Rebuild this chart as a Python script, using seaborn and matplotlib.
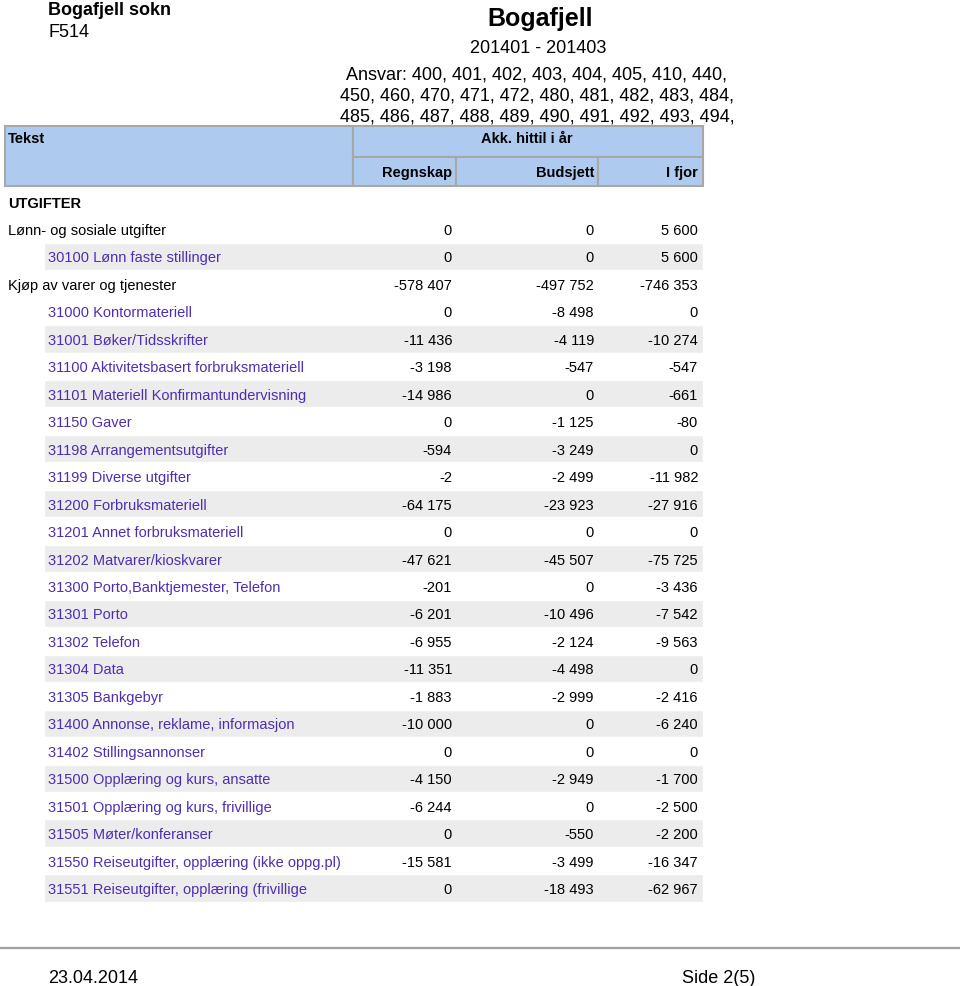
import matplotlib
matplotlib.use("Agg")
import matplotlib.pyplot as plt
from matplotlib.patches import Rectangle
import seaborn as sns
import numpy as np

# Tabelldata
labels = [
    "Lønn- og sosiale utgifter",
    "30100 Lønn faste stillinger",
    "Kjøp av varer og tjenester",
    "31000 Kontormateriell",
    "31001 Bøker/Tidsskrifter",
    "31100 Aktivitetsbasert forbruksmateriell",
    "31101 Materiell Konfirmantundervisning",
    "31150 Gaver",
    "31198 Arrangementsutgifter",
    "31199 Diverse utgifter",
    "31200 Forbruksmateriell",
    "31201 Annet forbruksmateriell",
    "31202 Matvarer/kioskvarer",
    "31300 Porto,Banktjemester, Telefon",
    "31301 Porto",
    "31302 Telefon",
    "31304 Data",
    "31305 Bankgebyr",
    "31400 Annonse, reklame, informasjon",
    "31402 Stillingsannonser",
    "31500 Opplæring og kurs, ansatte",
    "31501 Opplæring og kurs, frivillige",
    "31505 Møter/konferanser",
    "31550 Reiseutgifter, opplæring (ikke oppg.pl)",
    "31551 Reiseutgifter, opplæring (frivillige",
]
is_group = [True, False, True] + [False] * 22
regnskap = [0, 0, -578407, 0, -11436, -3198, -14986, 0, -594, -2, -64175, 0, -47621,
            -201, -6201, -6955, -11351, -1883, -10000, 0, -4150, -6244, 0, -15581, 0]
budsjett = [0, 0, -497752, -8498, -4119, -547, 0, -1125, -3249, -2499, -23923, 0, -45507,
            0, -10496, -2124, -4498, -2999, 0, 0, -2949, 0, -550, -3499, -18493]
i_fjor = [5600, 5600, -746353, 0, -10274, -547, -661, -80, 0, -11982, -27916, 0, -75725,
          -3436, -7542, -9563, 0, -2416, -6240, 0, -1700, -2500, -2200, -16347, -62967]

ansvar_lines = [
    "Ansvar: 400, 401, 402, 403, 404, 405, 410, 440,",
    "450, 460, 470, 471, 472, 480, 481, 482, 483, 484,",
    "485, 486, 487, 488, 489, 490, 491, 492, 493, 494,",
]

sns.set_theme(style="white")
plt.rcParams['font.family'] = ['Liberation Sans', 'DejaVu Sans']
plt.rcParams['text.color'] = 'black'

PURPLE = '#4f2db3'
HEADER = '#aecbef'
EDGE = '#a8a8a8'


def fmt(v):
    return f"{v:,}".replace(",", " ")


fig = plt.figure(figsize=(9.6, 9.87), dpi=100)
ax = fig.add_axes([0, 0, 1, 1])
ax.set_xlim(0, 960)
ax.set_ylim(987, 0)
ax.axis('off')

# Topptekst
ax.text(48, 15, "Bogafjell sokn", fontsize=13, fontweight='bold', va='baseline')
ax.text(48, 37, "F514", fontsize=13, va='baseline')
ax.text(540, 26, "Bogafjell", fontsize=18, fontweight='bold', ha='center', va='baseline')
ax.text(538, 53, "201401 - 201403", fontsize=13, ha='center', va='baseline')
for k, line in enumerate(ansvar_lines):
    ax.text(537, 80 + k * 20.5, line, fontsize=13, ha='center', va='baseline')

# Kolonnehode
ax.add_patch(Rectangle((5, 127), 348, 60, facecolor=HEADER, edgecolor=EDGE, lw=1.5))
ax.add_patch(Rectangle((353, 127), 350, 31, facecolor=HEADER, edgecolor=EDGE, lw=1.5))
for x0, w in [(353, 103), (456, 142), (598, 105)]:
    ax.add_patch(Rectangle((x0, 158), w, 29, facecolor=HEADER, edgecolor=EDGE, lw=1.5))
ax.text(8, 143, "Tekst", fontsize=10.5, fontweight='bold', va='baseline')
ax.text(527, 143, "Akk. hittil i år", fontsize=10.5, fontweight='bold', ha='center', va='baseline')
col_x = [452, 594, 698]
for x, t in zip(col_x, ["Regnskap", "Budsjett", "I fjor"]):
    ax.text(x, 177, t, fontsize=10.5, fontweight='bold', ha='right', va='baseline')

ax.text(8, 208, "UTGIFTER", fontsize=10.5, fontweight='bold', va='baseline')

# Rader
row_y = 230 + np.arange(len(labels)) * 27.46
shaded = []
k = 0
for i, g in enumerate(is_group):
    if g:
        k = 0
        continue
    if (k % 2 == 1) or (i == 1):
        shaded.append(i)
    k += 1
ax.barh(row_y[shaded], width=659, left=44, height=27.4, color='#ececec', zorder=0)

for i, lab in enumerate(labels):
    base = row_y[i] + 5
    if is_group[i]:
        ax.text(8, base, lab, fontsize=10.5, color='black', va='baseline')
    else:
        ax.text(48, base, lab, fontsize=10.5, color=PURPLE, va='baseline')
    for x, vals in zip(col_x, [regnskap, budsjett, i_fjor]):
        ax.text(x, base, fmt(vals[i]), fontsize=10.5, ha='right', va='baseline', color='black')

# Bunntekst
ax.plot([0, 960], [949, 949], color='#a0a0a0', lw=1.6)
ax.text(48, 983, "23.04.2014", fontsize=13, va='baseline')
ax.text(682, 983, "Side 2(5)", fontsize=13, va='baseline')

fig.savefig("out.png", dpi=100)
